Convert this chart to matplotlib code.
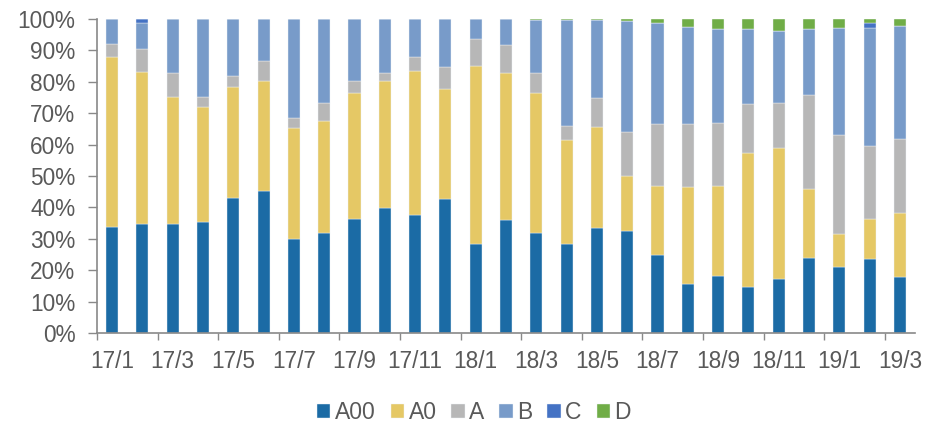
import numpy as np
import matplotlib
matplotlib.use('Agg')
from matplotlib import pyplot as plt

plt.rcParams['font.family'] = ['Liberation Sans', 'DejaVu Sans']

months = ['17/1', '17/2', '17/3', '17/4', '17/5', '17/6', '17/7', '17/8', '17/9',
          '17/10', '17/11', '17/12', '18/1', '18/2', '18/3', '18/4', '18/5', '18/6',
          '18/7', '18/8', '18/9', '18/10', '18/11', '18/12', '19/1', '19/2', '19/3']

# shares in %
a00 = [33.7, 34.7, 34.8, 35.4, 43.0, 45.3, 30.0, 31.9, 36.2, 39.7, 37.7, 42.7, 28.2, 36.1,
       31.8, 28.3, 33.5, 32.4, 24.9, 15.6, 18.3, 14.6, 17.1, 23.9, 21.1, 23.5, 17.8]
a0 = [54.1, 48.5, 40.2, 36.4, 35.2, 35.0, 35.3, 35.7, 40.2, 40.4, 45.7, 35.1, 56.7, 46.7,
      44.6, 33.2, 32.0, 17.6, 22.0, 30.9, 28.4, 42.6, 41.9, 21.8, 10.5, 12.8, 20.4]
a = [4.1, 7.1, 7.7, 3.2, 3.6, 6.2, 3.1, 5.6, 3.8, 2.7, 4.4, 6.8, 8.8, 8.9,
     6.3, 4.4, 9.3, 14.1, 19.6, 20.0, 20.0, 15.7, 14.2, 30.0, 31.4, 23.1, 23.5]
b = [8.1, 8.5, 17.3, 25.0, 18.2, 13.5, 31.6, 26.8, 19.8, 17.2, 12.2, 15.4, 6.3, 8.3,
     17.1, 33.9, 24.9, 35.2, 32.2, 30.8, 30.2, 23.9, 22.9, 21.1, 34.0, 37.7, 36.2]
c = [0, 1.2, 0, 0, 0, 0, 0, 0, 0, 0, 0, 0, 0, 0,
     0, 0, 0, 0, 0, 0, 0, 0, 0, 0, 0, 1.5, 0]
d = [0, 0, 0, 0, 0, 0, 0, 0, 0, 0, 0, 0, 0, 0,
     0.2, 0.2, 0.3, 0.7, 1.3, 2.7, 3.1, 3.2, 3.9, 3.2, 3.0, 1.4, 2.1]

series = [('A00', a00, '#1b6ba5'), ('A0', a0, '#e5c865'), ('A', a, '#b7b7b7'),
          ('B', b, '#789bc9'), ('C', c, '#4472c4'), ('D', d, '#70ad47')]

fig = plt.figure(figsize=(9.35, 4.25), dpi=100)
ax = fig.add_axes([0.1037, 0.2165, 0.875, 0.739])

x = np.arange(len(months))
bottom = np.zeros(len(months))
for name, vals, col in series:
    vals = np.array(vals, dtype=float)
    ax.bar(x, vals, 0.4, bottom=bottom, color=col, label=name,
           edgecolor='#eef2f8', linewidth=0.3)
    bottom += vals

ax.set_xlim(-0.5, len(months) - 0.5)
ax.set_ylim(0, 100)
ax.set_yticks(range(0, 101, 10))
ax.set_yticklabels([f'{v}%' for v in range(0, 101, 10)])

ax.set_xticks(x[::2])
ax.set_xticklabels(months[::2])
ax.set_xticks(np.arange(-0.5, len(months), 2), minor=True)
ax.tick_params(axis='x', which='major', length=0, pad=12.5)
ax.tick_params(axis='x', which='minor', length=5, color='#898989', width=1)
ax.tick_params(axis='y', length=6.5, color='#898989', width=1, pad=9)
ax.tick_params(labelsize=16.3, labelcolor='#595959')

for s in ['top', 'right']:
    ax.spines[s].set_visible(False)
for s in ['left', 'bottom']:
    ax.spines[s].set_color('#898989')
    ax.spines[s].set_linewidth(1.2)

fig.legend(loc='center', bbox_to_anchor=(0.507, 0.03), ncol=6, frameon=False,
           fontsize=16.5, labelcolor='#595959', handlelength=0.58, handleheight=0.58,
           handletextpad=0.2, columnspacing=0.65)

plt.savefig('out.png', dpi=100)
